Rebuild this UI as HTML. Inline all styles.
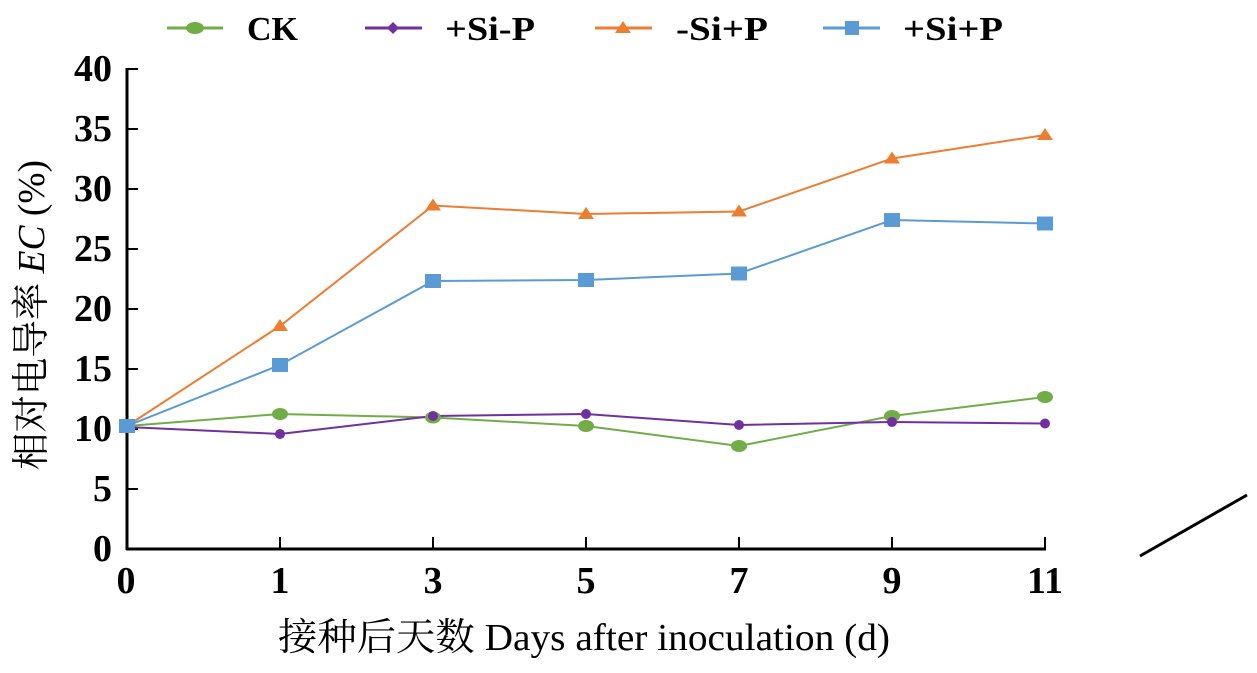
<!DOCTYPE html>
<html><head><meta charset="utf-8"><style>body{margin:0;background:#fff}svg{display:block}</style></head><body>
<svg width="1257" height="673" xmlns="http://www.w3.org/2000/svg" font-family="Liberation Serif, Noto Serif CJK SC, serif">
<rect width="1257" height="673" fill="#fff"/>
<g font-size="34" font-weight="bold">
<line x1="167" y1="28" x2="223" y2="28" stroke="#70ad47" stroke-width="3"/><ellipse cx="195" cy="28" rx="9" ry="6" fill="#70ad47"/><text x="247" y="40" textLength="51" lengthAdjust="spacingAndGlyphs">CK</text>
<line x1="365" y1="28" x2="422" y2="28" stroke="#7030a0" stroke-width="3"/><path d="M393,22 L399,28 393,34 387,28Z" fill="#7030a0"/><text x="445" y="40" textLength="90" lengthAdjust="spacingAndGlyphs">+Si-P</text>
<line x1="595" y1="28" x2="652" y2="28" stroke="#ed7d31" stroke-width="3"/><path d="M623,21 L631,33 615,33Z" fill="#ed7d31"/><text x="676" y="40" textLength="92" lengthAdjust="spacingAndGlyphs">-Si+P</text>
<line x1="823" y1="28" x2="880" y2="28" stroke="#5b9bd5" stroke-width="3"/><rect x="845" y="21" width="14" height="14" fill="#5b9bd5"/><text x="903" y="40" textLength="100" lengthAdjust="spacingAndGlyphs">+Si+P</text>
</g>
<g stroke="#000" stroke-width="3">
<line x1="127" y1="68" x2="127" y2="550"/><line x1="126" y1="549" x2="1046" y2="549"/>
<g stroke-width="2">
<line x1="127" y1="69" x2="138" y2="69"/><line x1="127" y1="129" x2="138" y2="129"/><line x1="127" y1="189" x2="138" y2="189"/><line x1="127" y1="249" x2="138" y2="249"/><line x1="127" y1="309" x2="138" y2="309"/><line x1="127" y1="369" x2="138" y2="369"/><line x1="127" y1="429" x2="138" y2="429"/><line x1="127" y1="489" x2="138" y2="489"/>
<line x1="280" y1="549" x2="280" y2="537"/><line x1="433" y1="549" x2="433" y2="537"/><line x1="586" y1="549" x2="586" y2="537"/><line x1="739" y1="549" x2="739" y2="537"/><line x1="892" y1="549" x2="892" y2="537"/><line x1="1045" y1="549" x2="1045" y2="537"/>
</g></g>
<g font-size="38" font-weight="bold" text-anchor="end">
<text x="112" y="81">40</text><text x="112" y="141">35</text><text x="112" y="201">30</text><text x="112" y="261">25</text><text x="112" y="321">20</text><text x="112" y="381">15</text><text x="112" y="441">10</text><text x="112" y="501">5</text><text x="112" y="561">0</text>
</g>
<g font-size="38" font-weight="bold" text-anchor="middle">
<text x="126" y="593">0</text><text x="280" y="593">1</text><text x="433" y="593">3</text><text x="586" y="593">5</text><text x="739" y="593">7</text><text x="892" y="593">9</text><text x="1045" y="593">11</text>
</g>
<text x="278" y="650" font-size="38" textLength="612" lengthAdjust="spacingAndGlyphs">接种后天数 Days after inoculation (d)</text>
<text transform="translate(44,470) rotate(-90)" font-size="38" textLength="310" lengthAdjust="spacingAndGlyphs">相对电导率 <tspan font-style="italic">EC</tspan> (%)</text>
<g fill="none" stroke-width="2">
<polyline stroke="#70ad47" points="127,426 280,414 433,417.5 586,426 739,446 892,416 1045,397"/>
<polyline stroke="#7030a0" points="127,427 280,434 433,416 586,414 739,425 892,422 1045,423.5"/>
<polyline stroke="#ed7d31" points="127,426 280,326 433,205.5 586,214 739,211.5 892,158.5 1045,135"/>
<polyline stroke="#5b9bd5" points="127,426 280,365 433,281 586,280 739,273.5 892,220 1045,223.5"/>
</g>
<g fill="#70ad47"><ellipse cx="127" cy="426" rx="8" ry="6"/><ellipse cx="280" cy="414" rx="8" ry="6"/><ellipse cx="433" cy="417.5" rx="8" ry="6"/><ellipse cx="586" cy="426" rx="8" ry="6"/><ellipse cx="739" cy="446" rx="8" ry="6"/><ellipse cx="892" cy="416" rx="8" ry="6"/><ellipse cx="1045" cy="397" rx="8" ry="6"/></g>
<g fill="#7030a0"><circle cx="280" cy="434" r="5"/><circle cx="433" cy="416" r="5"/><circle cx="586" cy="414" r="5"/><circle cx="739" cy="425" r="5"/><circle cx="892" cy="422" r="5"/><circle cx="1045" cy="423.5" r="5"/></g>
<g fill="#ed7d31"><path d="M127,419 l8,12 h-16Z"/><path d="M280,319 l8,12 h-16Z"/><path d="M433,198.5 l8,12 h-16Z"/><path d="M586,207 l8,12 h-16Z"/><path d="M739,204.5 l8,12 h-16Z"/><path d="M892,151.5 l8,12 h-16Z"/><path d="M1045,128 l8,12 h-16Z"/></g>
<g fill="#5b9bd5"><rect x="119" y="419" width="16" height="14"/><rect x="272" y="358" width="16" height="14"/><rect x="425" y="274" width="16" height="14"/><rect x="578" y="273" width="16" height="14"/><rect x="731" y="266.5" width="16" height="14"/><rect x="884" y="213" width="16" height="14"/><rect x="1037" y="216.5" width="16" height="14"/></g>
<line x1="1140" y1="556" x2="1247" y2="495" stroke="#000" stroke-width="3"/>
</svg>
</body></html>
